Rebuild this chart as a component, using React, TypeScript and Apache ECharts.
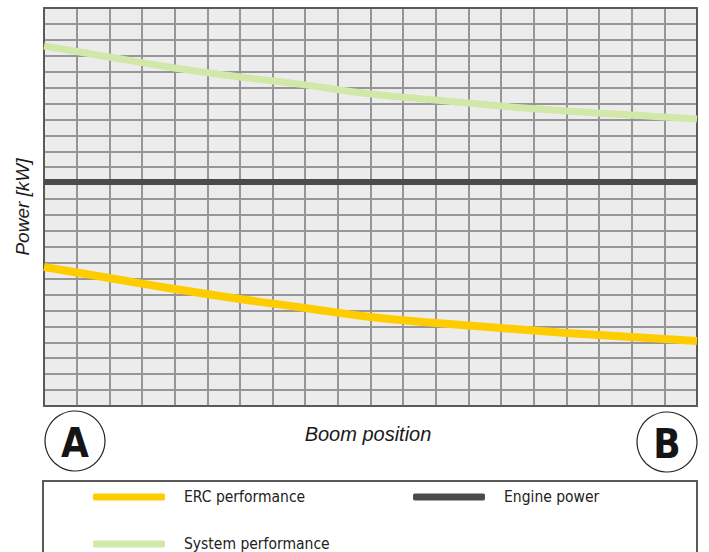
import React, { useEffect, useRef } from "react";
import * as echarts from "echarts";

const boomPositions = [0, 2, 4, 6, 8, 10, 12, 14, 16, 18, 20];
const systemPerformance = [22.61, 21.92, 21.23, 20.67, 20.17, 19.6, 19.22, 18.84, 18.53, 18.28, 18.03];
const engineLevel = 14.07;
const ercPerformance = [8.73, 8.04, 7.35, 6.72, 6.16, 5.59, 5.21, 4.9, 4.59, 4.33, 4.08];
const seriesNames = ["ERC performance", "Engine power", "System performance"];

const NARROW = "'Liberation Sans Narrow', 'DejaVu Sans Condensed', 'Arial Narrow', sans-serif";
const SANS = "'Liberation Sans', Arial, Helvetica, sans-serif";

export default function App() {
  const ref = useRef<HTMLDivElement>(null);
  useEffect(() => {
    document.body.style.margin = "0";
    const chart = echarts.init(ref.current!, null, { renderer: "svg" });
    const pair = (arr: number[]) => arr.map((v, i) => [boomPositions[i], v]);
    const engine = boomPositions.map((p) => [p, engineLevel]);
    const legendBase = {
      selectedMode: false,
      orient: "horizontal",
      padding: 0,
      itemWidth: 72,
      itemHeight: 7,
      icon: "roundRect",
      textStyle: { fontFamily: NARROW, fontSize: 15.5, color: "#222", padding: [0, 0, 0, 14] },
    };
    chart.setOption({
      animation: false,
      backgroundColor: "#ffffff",
      grid: { left: 44, top: 8, width: 653, height: 398, show: true, backgroundColor: "#ebeceb", borderWidth: 0 },
      xAxis: [
        {
          type: "value", min: 0, max: 20, interval: 1,
          axisLine: { show: true, onZero: false, lineStyle: { color: "#5a5a5a", width: 2 } },
          axisTick: { show: false }, axisLabel: { show: false },
          splitLine: { show: true, lineStyle: { color: "#969696", width: 2 } },
        },
        {
          type: "value", min: 0, max: 20, interval: 1, position: "top",
          axisLine: { show: true, onZero: false, lineStyle: { color: "#5a5a5a", width: 2 } },
          axisTick: { show: false }, axisLabel: { show: false }, splitLine: { show: false },
        },
      ],
      yAxis: [
        {
          type: "value", min: 0, max: 25, interval: 1,
          axisLine: { show: true, onZero: false, lineStyle: { color: "#5a5a5a", width: 2 } },
          axisTick: { show: false }, axisLabel: { show: false },
          splitLine: { show: true, lineStyle: { color: "#969696", width: 2 } },
        },
        {
          type: "value", min: 0, max: 25, interval: 1, position: "right",
          axisLine: { show: true, onZero: false, lineStyle: { color: "#5a5a5a", width: 2 } },
          axisTick: { show: false }, axisLabel: { show: false }, splitLine: { show: false },
        },
      ],
      legend: [
        { ...legendBase, data: [seriesNames[0]], left: 93, top: 489 },
        { ...legendBase, data: [seriesNames[1]], left: 413, top: 489 },
        { ...legendBase, data: [seriesNames[2]], left: 93, top: 536 },
      ],
      series: [
        {
          name: seriesNames[2], type: "line", data: pair(systemPerformance), smooth: true,
          showSymbol: false, color: "#d1e8a9", lineStyle: { width: 7, color: "#d1e8a9" }, z: 3,
        },
        {
          name: seriesNames[1], type: "line", data: engine, showSymbol: false,
          color: "#4b4b4b", lineStyle: { width: 6, color: "#4b4b4b" }, z: 3,
        },
        {
          name: seriesNames[0], type: "line", data: pair(ercPerformance), smooth: true,
          showSymbol: false, color: "#ffcc00", lineStyle: { width: 8, color: "#ffcc00" }, z: 3,
        },
      ],
      graphic: [
        {
          type: "text", x: 22, y: 207, rotation: Math.PI / 2,
          style: { text: "Power [kW]", fontFamily: SANS, fontStyle: "italic", fontSize: 19, fill: "#1a1a1a", textAlign: "center", textVerticalAlign: "middle" },
        },
        {
          type: "text", x: 368, y: 434,
          style: { text: "Boom position", fontFamily: SANS, fontStyle: "italic", fontSize: 20, fill: "#1a1a1a", textAlign: "center", textVerticalAlign: "middle" },
        },
        { type: "circle", shape: { cx: 75, cy: 441, r: 30 }, style: { fill: "#fff", stroke: "#222", lineWidth: 1.2 } },
        { type: "circle", shape: { cx: 667, cy: 442, r: 30 }, style: { fill: "#fff", stroke: "#222", lineWidth: 1.2 } },
        {
          type: "text", x: 75, y: 443,
          style: { text: "A", fontFamily: NARROW, fontWeight: "bold", fontSize: 40, fill: "#151515", textAlign: "center", textVerticalAlign: "middle" },
        },
        {
          type: "text", x: 667, y: 444,
          style: { text: "B", fontFamily: NARROW, fontWeight: "bold", fontSize: 40, fill: "#151515", textAlign: "center", textVerticalAlign: "middle" },
        },
        { type: "rect", shape: { x: 43, y: 481, width: 654, height: 100 }, style: { fill: "none", stroke: "#5a5a5a", lineWidth: 2 } },
      ],
    });
    return () => chart.dispose();
  }, []);
  return <div ref={ref} style={{ width: 709, height: 552 }} />;
}
